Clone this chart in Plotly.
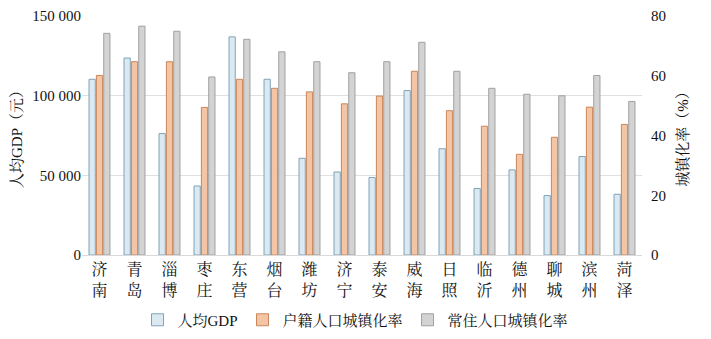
import plotly.graph_objects as go

cities = ["济<br>南", "青<br>岛", "淄<br>博", "枣<br>庄", "东<br>营", "烟<br>台", "潍<br>坊", "济<br>宁",
          "泰<br>安", "威<br>海", "日<br>照", "临<br>沂", "德<br>州", "聊<br>城", "滨<br>州", "菏<br>泽"]
gdp = [110300, 123600, 76200, 43300, 136900, 110300, 60700, 52100,
       48600, 103200, 66700, 41700, 53400, 37300, 61800, 38100]
huji = [60.1, 64.7, 64.7, 49.4, 58.8, 55.8, 54.6, 50.6,
        53.2, 61.5, 48.3, 43.1, 33.7, 39.4, 49.5, 43.7]
changzhu = [74.2, 76.6, 74.9, 59.6, 72.2, 68.0, 64.7, 61.0,
            64.7, 71.2, 61.5, 55.8, 53.8, 53.3, 60.1, 51.4]
left_ticks = [0, 50000, 100000, 150000]
right_ticks = [0, 20, 40, 60, 80]

FONT = "Liberation Serif, Noto Serif CJK SC, Noto Sans CJK SC, serif"

fig = go.Figure()
fig.add_trace(go.Bar(x=cities, y=gdp, name="人均GDP", offsetgroup="1",
                     marker=dict(color="#dbeaf2", line=dict(color="#7fa3b8", width=1))))
fig.add_trace(go.Bar(x=cities, y=huji, name="户籍人口城镇化率", offsetgroup="2", yaxis="y2",
                     marker=dict(color="#f3c5a5", line=dict(color="#c9865a", width=1))))
fig.add_trace(go.Bar(x=cities, y=changzhu, name="常住人口城镇化率", offsetgroup="3", yaxis="y2",
                     marker=dict(color="#d3d3d3", line=dict(color="#a0a0a0", width=1))))

fig.update_layout(
    width=711, height=339,
    margin=dict(l=82, r=69, t=16, b=84, autoexpand=False),
    paper_bgcolor="white", plot_bgcolor="white",
    font=dict(family=FONT, size=15, color="#111"),
    separators=". ",
    barmode="group", bargap=0.37, bargroupgap=0.15,
    showlegend=True,
    legend=dict(orientation="h", x=0.5, xref="container", xanchor="center",
                y=0.056, yref="container", yanchor="middle",
                font=dict(size=15), itemwidth=30, traceorder="normal"),
    xaxis=dict(showline=True, linecolor="#d9d9d9", linewidth=1, ticks="",
               tickfont=dict(size=16), showgrid=False, automargin=False),
    yaxis=dict(range=[0, 150000], tickvals=left_ticks, tickformat=",",
               showgrid=True, gridcolor="#e0e0e0", gridwidth=1, zeroline=False,
               ticks="", automargin=False,
               title=dict(text="人均GDP（元）", font=dict(size=15), standoff=6),
               tickfont=dict(size=15)),
    yaxis2=dict(range=[0, 80], tickvals=right_ticks, overlaying="y", side="right",
                showgrid=False, zeroline=False, ticks="", automargin=False,
                ticklabelstandoff=8,
                title=dict(text="城镇化率（%）", font=dict(size=15), standoff=12),
                tickfont=dict(size=15)),
)

fig.write_html("out.html")
